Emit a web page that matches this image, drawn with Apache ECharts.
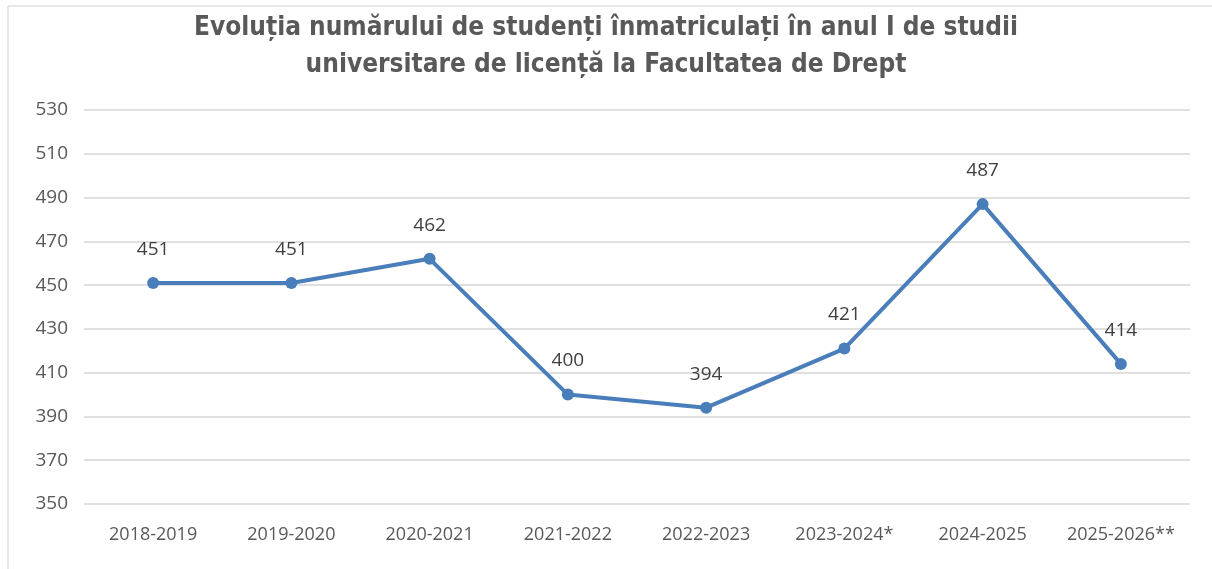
<!DOCTYPE html>
<html>
<head>
<meta charset="utf-8">
<script src="https://cdn.jsdelivr.net/npm/echarts@6/dist/echarts.min.js"></script>
<style>
html,body{margin:0;padding:0;background:#fff;}
#c{width:1212px;height:569px;}
</style>
</head>
<body>
<div id="c"></div>
<script>
const titleLines = ["Evoluția numărului de studenți înmatriculați în anul I de studii", "universitare de licență la Facultatea de Drept"];
const categories = ["2018-2019","2019-2020","2020-2021","2021-2022","2022-2023","2023-2024*","2024-2025","2025-2026**"];
const values = [451, 451, 462, 400, 394, 421, 487, 414];
const yMin = 350, yMax = 530, yStep = 20;

const chart = echarts.init(document.getElementById('c'), null, {renderer: 'canvas'});
chart.setOption({
  animation: false,
  backgroundColor: '#ffffff',
  title: {
    text: titleLines.join('\n'),
    left: 'center',
    top: 5,
    textStyle: {
      fontFamily: '"Liberation Sans Narrow", "DejaVu Sans Condensed", "Open Sans", sans-serif',
      fontWeight: 'bold',
      fontSize: 26,
      lineHeight: 37,
      color: '#595959'
    }
  },
  graphic: [
    {type: 'line', shape: {x1: 8, y1: 6, x2: 1212, y2: 6}, style: {stroke: '#e8e8e8', lineWidth: 2}, silent: true},
    {type: 'line', shape: {x1: 8, y1: 6, x2: 8, y2: 569}, style: {stroke: '#e8e8e8', lineWidth: 2}, silent: true}
  ],
  grid: {left: 84, right: 22, top: 110, bottom: 65},
  xAxis: {
    type: 'category',
    data: categories,
    boundaryGap: true,
    axisLine: {show: false},
    axisTick: {show: false},
    axisLabel: {
      interval: 0,
      fontFamily: '"Open Sans", "DejaVu Sans", sans-serif',
      fontSize: 18,
      color: '#595959',
      margin: 22
    }
  },
  yAxis: {
    type: 'value',
    min: yMin,
    max: yMax,
    interval: yStep,
    axisLine: {show: false},
    axisTick: {show: false},
    axisLabel: {
      fontFamily: '"Open Sans", "DejaVu Sans", sans-serif',
      fontSize: 19,
      color: '#595959',
      margin: 16
    },
    splitLine: {lineStyle: {color: '#e0e0e0', width: 2}}
  },
  series: [{
    type: 'line',
    data: values,
    symbol: 'circle',
    symbolSize: 12,
    lineStyle: {color: '#4a7ebb', width: 4},
    itemStyle: {color: '#4a7ebb'},
    label: {
      show: true,
      position: 'top',
      distance: 18,
      fontFamily: '"Open Sans", "DejaVu Sans", sans-serif',
      fontSize: 19,
      color: '#404040'
    }
  }]
});
</script>
</body>
</html>
